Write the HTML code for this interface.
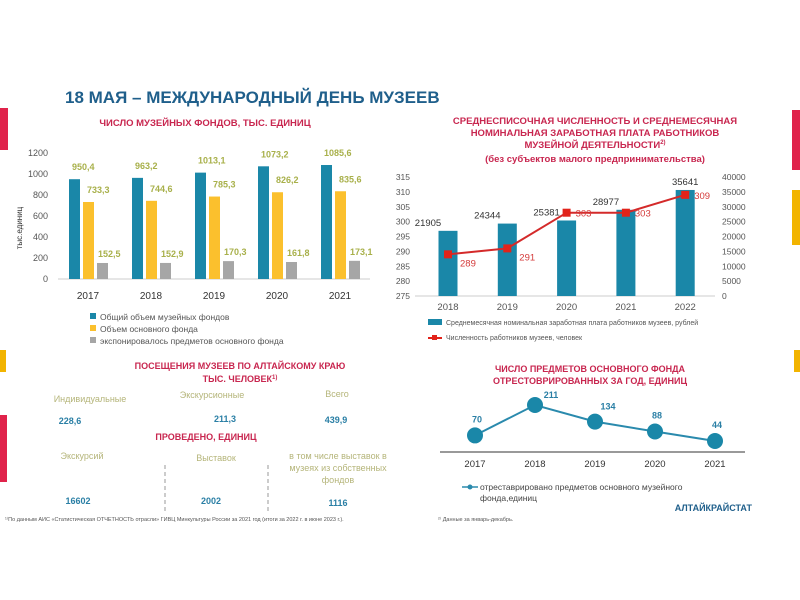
<!DOCTYPE html>
<html><head><meta charset="utf-8"><style>
body{margin:0;background:#fff}
svg{display:block;font-family:"Liberation Sans",sans-serif}
</style></head><body>
<svg id="s" width="800" height="600" viewBox="0 0 800 600">
<rect x="0" y="108" width="8" height="42" fill="#e0234b"/>
<rect x="0" y="350" width="6" height="22" fill="#f2b400"/>
<rect x="0" y="415" width="7" height="67" fill="#e0234b"/>
<rect x="792" y="110" width="8" height="60" fill="#e0234b"/>
<rect x="792" y="190" width="8" height="55" fill="#f2b400"/>
<rect x="794" y="350" width="6" height="22" fill="#f2b400"/>
<text x="65" y="103" font-size="17" font-weight="bold" fill="#1f5f8b">18 МАЯ – МЕЖДУНАРОДНЫЙ ДЕНЬ МУЗЕЕВ</text>
<text x="205" y="126" font-size="9.5" font-weight="bold" fill="#c8264f" text-anchor="middle">ЧИСЛО МУЗЕЙНЫХ ФОНДОВ, ТЫС. ЕДИНИЦ</text>
<text transform="translate(22,228) rotate(-90)" font-size="8" fill="#333" text-anchor="middle">тыс.единиц</text>
<g id="c1"></g>
<g font-size="8.5" fill="#555">
<rect x="90" y="313" width="6" height="6" fill="#1a87a8"/><text x="100" y="320">Общий объем музейных фондов</text>
<rect x="90" y="325" width="6" height="6" fill="#fbc02d"/><text x="100" y="332">Объем основного фонда</text>
<rect x="90" y="337" width="6" height="6" fill="#a6a6a6"/><text x="100" y="344">экспонировалось предметов основного фонда</text>
</g>
<g font-size="9.5" font-weight="bold" fill="#c8264f" text-anchor="middle">
<text x="595" y="124">СРЕДНЕСПИСОЧНАЯ ЧИСЛЕННОСТЬ И СРЕДНЕМЕСЯЧНАЯ</text>
<text x="595" y="136">НОМИНАЛЬНАЯ ЗАРАБОТНАЯ ПЛАТА РАБОТНИКОВ</text>
<text x="595" y="148">МУЗЕЙНОЙ ДЕЯТЕЛЬНОСТИ<tspan font-size="6" dy="-4">2)</tspan></text>
<text x="595" y="162">(без субъектов малого предпринимательства)</text>
</g>
<g id="c2"></g>
<g font-size="7" fill="#555">
<rect x="428" y="319" width="14" height="6" fill="#1a87a8"/><text x="446" y="325">Среднемесячная номинальная заработная плата работников музеев, рублей</text>
<line x1="428" y1="338" x2="442" y2="338" stroke="#e2231a" stroke-width="2"/><rect x="432" y="335" width="5" height="5" fill="#e2231a"/><text x="446" y="340">Численность работников музеев, человек</text>
</g>
<g font-size="9" font-weight="bold" fill="#c8264f" text-anchor="middle">
<text x="240" y="369">ПОСЕЩЕНИЯ МУЗЕЕВ ПО АЛТАЙСКОМУ КРАЮ</text>
<text x="240" y="382">ТЫС. ЧЕЛОВЕК<tspan font-size="6" dy="-3">1)</tspan></text>
<text x="206" y="440">ПРОВЕДЕНО, ЕДИНИЦ</text>
<text x="590" y="372">ЧИСЛО ПРЕДМЕТОВ ОСНОВНОГО ФОНДА</text>
<text x="590" y="384">ОТРЕСТОВРИРОВАННЫХ ЗА ГОД, ЕДИНИЦ</text>
</g>
<g font-size="9" fill="#b5b57a" text-anchor="middle">
<text x="90" y="402">Индивидуальные</text>
<text x="212" y="398">Экскурсионные</text>
<text x="337" y="397">Всего</text>
<text x="82" y="459">Экскурсий</text>
<text x="216" y="461">Выставок</text>
<text x="338" y="459">в том числе выставок в</text>
<text x="338" y="471">музеях из собственных</text>
<text x="338" y="483">фондов</text>
</g>
<g font-size="9" font-weight="bold" fill="#2a7fa5" text-anchor="middle">
<text x="70" y="424">228,6</text>
<text x="225" y="422">211,3</text>
<text x="336" y="423">439,9</text>
<text x="78" y="504">16602</text>
<text x="211" y="504">2002</text>
<text x="338" y="506">1116</text>
</g>
<line x1="165" y1="465" x2="165" y2="512" stroke="#999" stroke-dasharray="4,3"/>
<line x1="268" y1="465" x2="268" y2="512" stroke="#999" stroke-dasharray="4,3"/>
<text x="5" y="521" font-size="5.5" fill="#555">¹⁾По данным АИС «Статистическая ОТЧЕТНОСТЬ отрасли» ГИВЦ Минкультуры России за 2021 год (итоги за 2022 г. в июне 2023 г.).</text>
<text x="438" y="521" font-size="5.5" fill="#555">²⁾ Данные за январь-декабрь.</text>
<g id="c3"></g>
<line x1="462" y1="487" x2="478" y2="487" stroke="#2a8aad" stroke-width="1.5"/><circle cx="470" cy="487" r="2.5" fill="#2a8aad"/>
<text x="480" y="490" font-size="8.5" fill="#444">отреставрировано предметов основного музейного</text>
<text x="480" y="501" font-size="8.5" fill="#444">фонда,единиц</text>
<text x="752" y="511" font-size="9" font-weight="bold" fill="#1f5f8b" text-anchor="end">АЛТАЙКРАЙСТАТ</text>
</svg>
<script>
const years1=["2017","2018","2019","2020","2021"];
const totalFund=[950.4,963.2,1013.1,1073.2,1085.6];
const mainFund=[733.3,744.6,785.3,826.2,835.6];
const exhibited=[152.5,152.9,170.3,161.8,173.1];
const ticks1=[0,200,400,600,800,1000,1200];
const years2=["2018","2019","2020","2021","2022"];
const salary=[21905,24344,25381,28977,35641];
const staff=[289,291,303,303,309];
const ticksL=[275,280,285,290,295,300,305,310,315];
const ticksR=[0,5000,10000,15000,20000,25000,30000,35000,40000];
const years3=["2017","2018","2019","2020","2021"];
const restored=[70,211,134,88,44];
const NS="http://www.w3.org/2000/svg";
function mk(p,t,a,txt){const e=document.createElementNS(NS,t);for(const k in a)e.setAttribute(k,a[k]);if(txt!==undefined)e.textContent=txt;p.appendChild(e);return e;}
const fmt=v=>String(v).replace('.',',');
// chart1
const c1=document.getElementById('c1');
const y1=v=>279-v*(126/1200), x1=i=>88+i*63;
ticks1.forEach(t=>{const e=mk(c1,'text',{x:48,y:y1(t)+3,'font-size':9,fill:'#555','text-anchor':'end'},t);

});
mk(c1,'line',{x1:58,y1:279,x2:370,y2:279,stroke:'#ccc'});
const s1=[[totalFund,'#1a87a8',-19,3,9],[mainFund,'#fbc02d',-5,4,9],[exhibited,'#a6a6a6',9,1,6]];
years1.forEach((yr,i)=>{
 s1.forEach(([arr,col,off,lx,ly],k)=>{
  const r=mk(c1,'rect',{x:x1(i)+off,y:y1(arr[i]),width:11,height:279-y1(arr[i]),fill:col});
  
  
  const l=mk(c1,'text',{x:x1(i)+off+lx,y:y1(arr[i])-ly,'font-size':9,'font-weight':'bold',fill:'#a8b04a'},fmt(arr[i]));
  
  
 });
 const t=mk(c1,'text',{x:x1(i),y:299,'font-size':10,fill:'#333','text-anchor':'middle'},yr);
 
 
});
// chart2
const c2=document.getElementById('c2');
const x2=i=>448+i*59.3, yL=v=>296-(v-275)*(119/40), yR=v=>296-v*(119/40000);
ticksL.forEach(t=>{const e=mk(c2,'text',{x:410,y:yL(t)+3,'font-size':8.5,fill:'#555','text-anchor':'end'},t);

});
ticksR.forEach(t=>{const e=mk(c2,'text',{x:722,y:yR(t)+3,'font-size':8.5,fill:'#555'},t);

});
mk(c2,'line',{x1:415,y1:296,x2:715,y2:296,stroke:'#ccc'});
years2.forEach((yr,i)=>{
 const r=mk(c2,'rect',{x:x2(i)-9.5,y:yR(salary[i]),width:19,height:296-yR(salary[i]),fill:'#1a87a8'});
 
 
 const l=mk(c2,'text',{x:x2(i)-(i==4?0:20),y:yR(salary[i])-5,'font-size':9.5,fill:'#333','text-anchor':'middle'},salary[i]);
 
 
 const t=mk(c2,'text',{x:x2(i),y:310,'font-size':9.5,fill:'#555','text-anchor':'middle'},yr);
 
 
});
const pl=mk(c2,'polyline',{points:staff.map((v,i)=>x2(i)+','+yL(v)).join(' '),fill:'none',stroke:'#d42a2a','stroke-width':2});


staff.forEach((v,i)=>{
 const m=mk(c2,'rect',{x:x2(i)-4,y:yL(v)-4,width:8,height:8,fill:'#e2231a'});
 
 
 const l=mk(c2,'text',{x:x2(i)+(i<2?12:9),y:yL(v)+(i<2?12:4),'font-size':9.5,fill:'#d43a3a'},v);
 
 
});
// chart3
const c3=document.getElementById('c3');
const x3=i=>475+i*60, y3=v=>450.5-v*0.2156;
mk(c3,'line',{x1:440,y1:452,x2:745,y2:452,stroke:'#333'});
const p3=mk(c3,'polyline',{points:restored.map((v,i)=>x3(i)+','+y3(v)).join(' '),fill:'none',stroke:'#2a8aad','stroke-width':2});


restored.forEach((v,i)=>{
 const c=mk(c3,'circle',{cx:x3(i),cy:y3(v),r:8,fill:'#1a87a8'});
 
 
 const l=mk(c3,'text',{x:x3(i)+(i==1?16:i==2?13:2),y:y3(v)-(i==1?7:i==2?12:13),'font-size':9,'font-weight':'bold',fill:'#2a7fa5','text-anchor':'middle'},v);
 
 
 const t=mk(c3,'text',{x:x3(i),y:467,'font-size':9.5,fill:'#333','text-anchor':'middle'},years3[i]);
 
 
});
</script>
</body></html>
